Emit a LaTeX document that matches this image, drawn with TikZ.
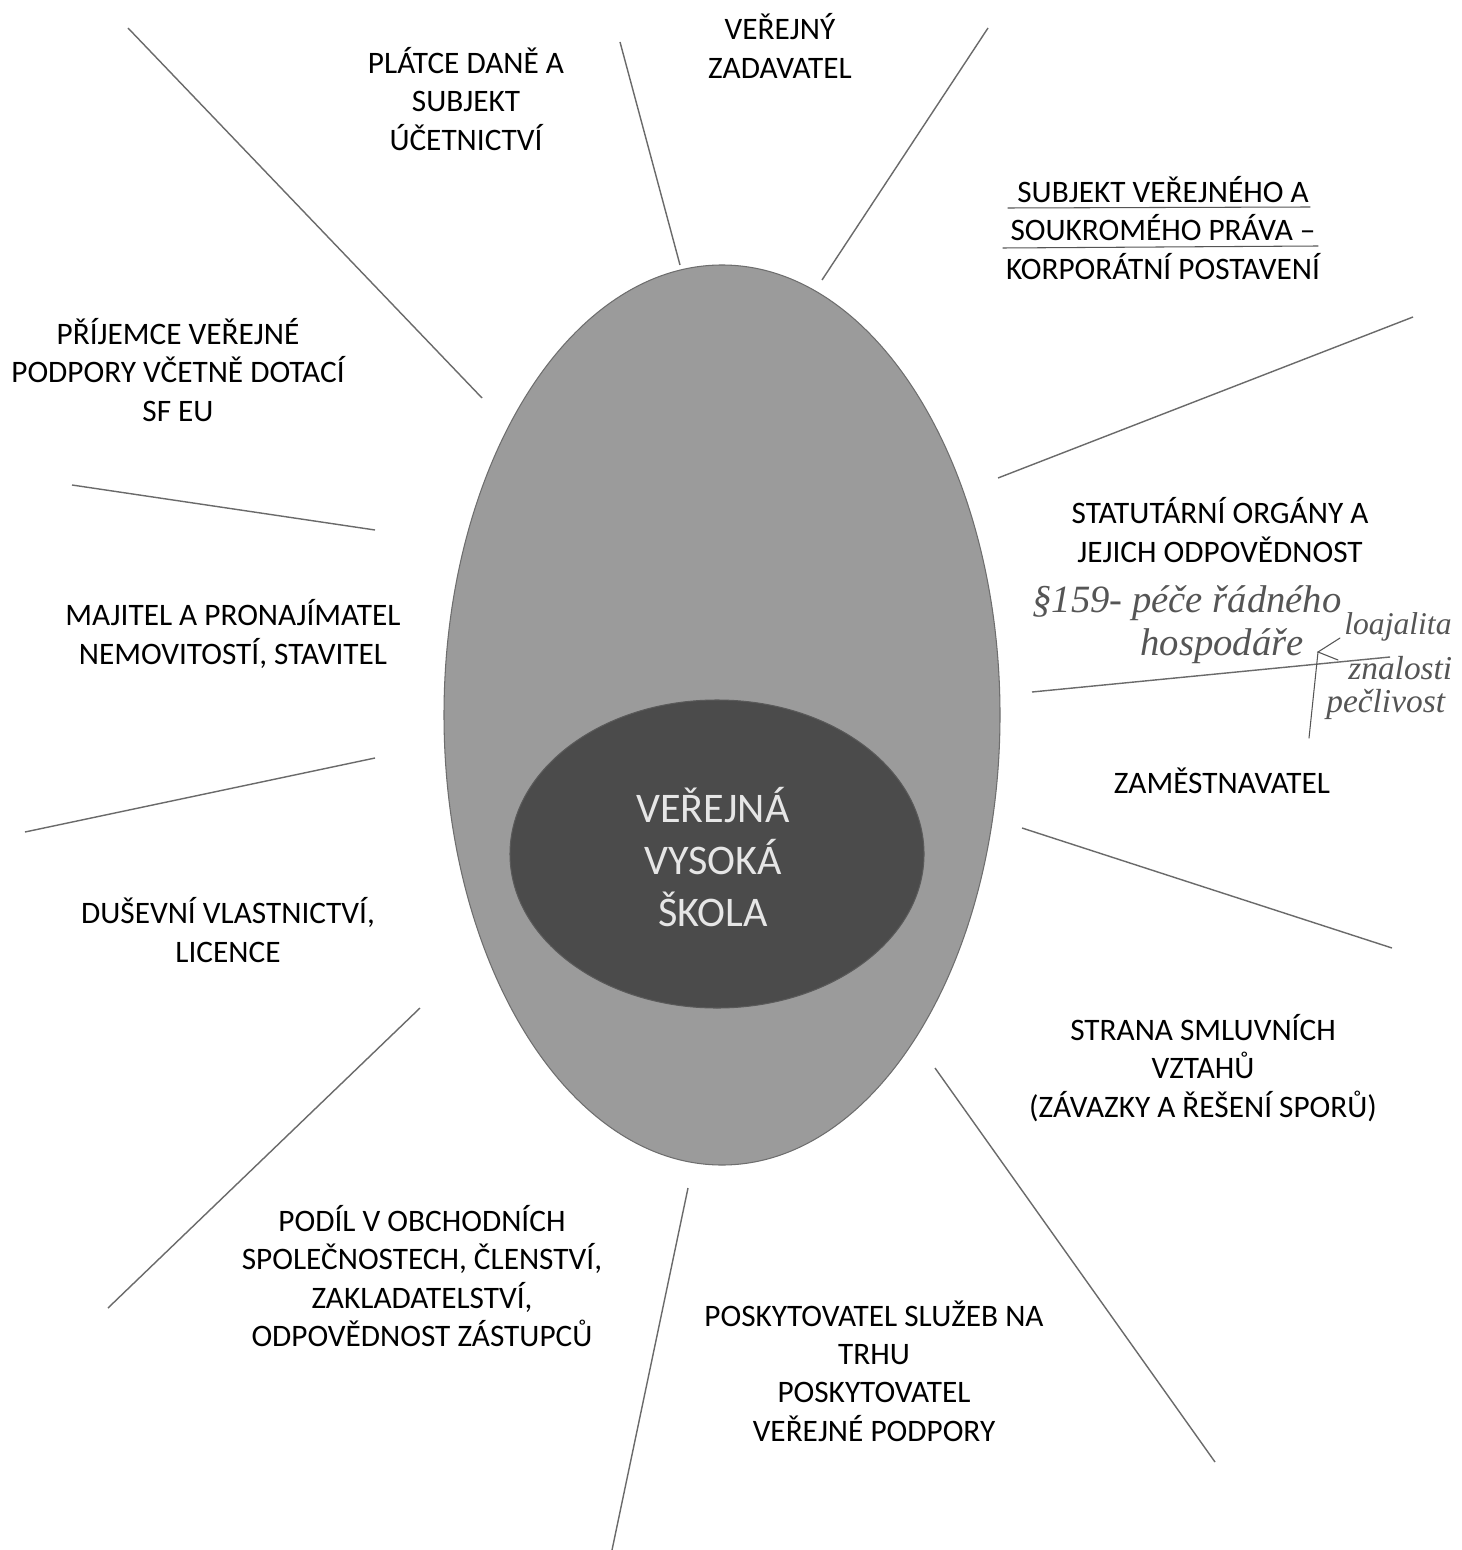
\documentclass[tikz,border=0pt]{standalone}
\usepackage{fontspec}
\setmainfont{Carlito}
\newfontfamily\handfont{Liberation Serif}
\usetikzlibrary{shapes.geometric}
\definecolor{outerfill}{HTML}{9B9B9B}
\definecolor{outeredge}{HTML}{6E6E6E}
\definecolor{innerfill}{HTML}{4B4B4B}
\definecolor{inneredge}{HTML}{5A5A5A}
\definecolor{raygray}{HTML}{6A6A6A}
\definecolor{handgray}{HTML}{555555}
\definecolor{centertext}{HTML}{E6E6E6}
\begin{document}
\begin{tikzpicture}[x=0.02cm,y=-0.02cm,
  lbl/.style={align=center,inner sep=0pt,text=black,font=\fontsize{17.8}{21.8}\selectfont},
  ray/.style={draw=raygray,line width=0.8pt},
  hand/.style={inner sep=0pt,text=handgray,anchor=base west},
  handline/.style={draw=handgray,line width=0.6pt,line cap=round}]
\useasboundingbox[fill=white] (0,0) rectangle (1461,1550);

% ellipses
\node[ellipse,fill=outerfill,draw=outeredge,line width=0.6pt,minimum width=556*0.02cm,minimum height=900*0.02cm,inner sep=0pt] (outer) at (722,715) {};
\node[ellipse,fill=innerfill,draw=inneredge,line width=0.6pt,minimum width=414*0.02cm,minimum height=308*0.02cm,inner sep=0pt] (inner) at (717,854) {};
\node[align=center,inner sep=0pt,text=centertext,font=\fontsize{24}{29.5}\selectfont] (center) at (713,857) {VEŘEJNÁ\\VYSOKÁ\\ŠKOLA};

% ray end points
\coordinate (a1) at (128,28);   \coordinate (a2) at (482,398);
\coordinate (b1) at (620,42);   \coordinate (b2) at (680,265);
\coordinate (c1) at (988,28);   \coordinate (c2) at (822,280);
\coordinate (d1) at (1413,317); \coordinate (d2) at (998,478);
\coordinate (e1) at (72,485);   \coordinate (e2) at (375,530);
\coordinate (f1) at (1032,692); \coordinate (f2) at (1390,657);
\coordinate (g1) at (375,758);  \coordinate (g2) at (25,832);
\coordinate (h1) at (1022,828); \coordinate (h2) at (1392,948);
\coordinate (i1) at (420,1008); \coordinate (i2) at (108,1308);
\coordinate (j1) at (935,1068); \coordinate (j2) at (1215,1462);
\coordinate (k1) at (688,1188); \coordinate (k2) at (612,1550);
\foreach \p in {a,b,c,d,e,f,g,h,i,j,k} {\draw[ray] (\p1) -- (\p2);}

% labels
\node[lbl] (plat) at (466,99) {PLÁTCE DANĚ A\\SUBJEKT\\ÚČETNICTVÍ};
\node[lbl] (zad) at (780,46) {VEŘEJNÝ\\ZADAVATEL};
\node[lbl] (subj) at (1163,228) {SUBJEKT VEŘEJNÉHO A\\SOUKROMÉHO PRÁVA –\\KORPORÁTNÍ POSTAVENÍ};
\node[lbl] (prij) at (178,370) {PŘÍJEMCE VEŘEJNÉ\\PODPORY VČETNĚ DOTACÍ\\SF EU};
\node[lbl] (stat) at (1220,530) {STATUTÁRNÍ ORGÁNY A\\JEJICH ODPOVĚDNOST};
\node[lbl] (maj) at (233,634) {MAJITEL A PRONAJÍMATEL\\NEMOVITOSTÍ, STAVITEL};
\node[lbl] (zam) at (1222,781) {ZAMĚSTNAVATEL};
\node[lbl] (dus) at (228,930) {DUŠEVNÍ VLASTNICTVÍ,\\LICENCE};
\node[lbl] (str) at (1203,1068) {STRANA SMLUVNÍCH\\VZTAHŮ\\(ZÁVAZKY A ŘEŠENÍ SPORŮ)};
\node[lbl] (pod) at (422,1276) {PODÍL V OBCHODNÍCH\\SPOLEČNOSTECH, ČLENSTVÍ,\\ZAKLADATELSTVÍ,\\ODPOVĚDNOST ZÁSTUPCŮ};
\node[lbl] (posk) at (874,1371) {POSKYTOVATEL SLUŽEB NA\\TRHU\\POSKYTOVATEL\\VEŘEJNÉ PODPORY};

% handwritten underlines
\coordinate (u1) at (1008,208); \coordinate (u2) at (1310,207);
\coordinate (u3) at (1003,248); \coordinate (u4) at (1318,246);
\draw[handline] (u1) -- (u2);
\draw[handline] (u3) -- (u4);

% handwritten note
\node[hand,font=\handfont\itshape\fontsize{22}{26}\selectfont] (n1) at (1032,612) {§159- péče řádného};
\node[hand,font=\handfont\itshape\fontsize{22}{26}\selectfont] (n2) at (1140,655) {hospodáře};
\node[hand,font=\handfont\itshape\fontsize{18}{22}\selectfont] (n3) at (1344,634) {loajalita};
\node[hand,font=\handfont\itshape\fontsize{19}{24}\selectfont] (n4) at (1348,679) {znalosti};
\node[hand,font=\handfont\itshape\fontsize{19}{24}\selectfont] (n5) at (1326,712) {pečlivost};
\coordinate (br0) at (1318,652);
\coordinate (br1) at (1340,638);
\coordinate (br2) at (1338,660);
\coordinate (br3) at (1309,738);
\draw[handline] (br1) -- (br0) -- (br2);
\draw[handline] (br0) -- (br3);
\end{tikzpicture}
\end{document}
